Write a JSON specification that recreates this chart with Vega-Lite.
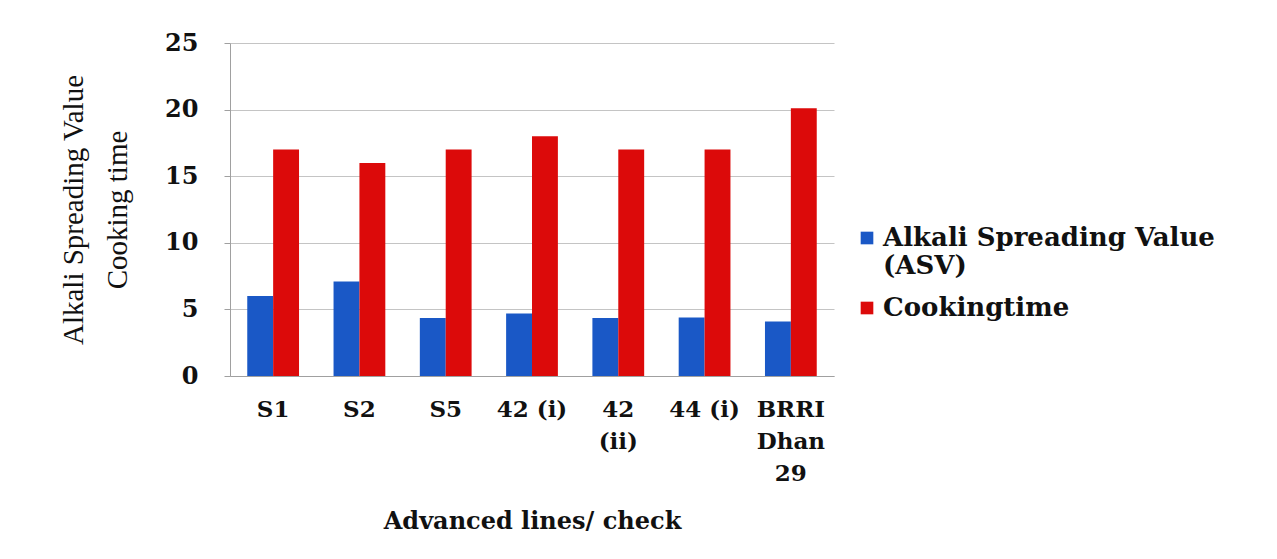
{
  "$schema": "https://vega.github.io/schema/vega-lite/v6.json",
  "autosize": {"type": "none"},
  "width": 604,
  "height": 333,
  "padding": {"left": 230, "top": 43, "right": 443, "bottom": 183},
  "background": "white",
  "data": {
    "values": [
      {"line": "S1", "series": "Alkali Spreading Value (ASV)", "value": 6.0},
      {"line": "S1", "series": "Cookingtime", "value": 17},
      {"line": "S2", "series": "Alkali Spreading Value (ASV)", "value": 7.1},
      {"line": "S2", "series": "Cookingtime", "value": 16},
      {"line": "S5", "series": "Alkali Spreading Value (ASV)", "value": 4.35},
      {"line": "S5", "series": "Cookingtime", "value": 17},
      {"line": "42 (i)", "series": "Alkali Spreading Value (ASV)", "value": 4.7},
      {"line": "42 (i)", "series": "Cookingtime", "value": 18},
      {"line": "42 (ii)", "series": "Alkali Spreading Value (ASV)", "value": 4.35},
      {"line": "42 (ii)", "series": "Cookingtime", "value": 17},
      {"line": "44 (i)", "series": "Alkali Spreading Value (ASV)", "value": 4.4},
      {"line": "44 (i)", "series": "Cookingtime", "value": 17},
      {"line": "BRRI Dhan 29", "series": "Alkali Spreading Value (ASV)", "value": 4.1},
      {"line": "BRRI Dhan 29", "series": "Cookingtime", "value": 20.1}
    ]
  },
  "mark": {"type": "bar"},
  "encoding": {
    "x": {
      "field": "line",
      "type": "nominal",
      "sort": null,
      "scale": {"paddingInner": 0.4, "paddingOuter": 0.2},
      "axis": {
        "title": "Advanced lines/ check",
        "labelAngle": 0,
        "labelExpr": "datum.value == '42 (ii)' ? ['42', '(ii)'] : datum.value == 'BRRI Dhan 29' ? ['BRRI', 'Dhan', '29'] : datum.value",
        "labelFont": "DejaVu Serif",
        "labelFontWeight": "bold",
        "labelFontSize": 23,
        "labelLineHeight": 32,
        "labelColor": "#111111",
        "labelPadding": 22,
        "ticks": false,
        "domainColor": "#a0a0a0",
        "titleFont": "DejaVu Serif",
        "titleFontWeight": "bold",
        "titleFontSize": 24,
        "titleColor": "#111111",
        "titlePadding": 24
      }
    },
    "y": {
      "field": "value",
      "type": "quantitative",
      "scale": {"domain": [0, 25]},
      "axis": {
        "title": ["Alkali Spreading Value", "Cooking time"],
        "values": [0, 5, 10, 15, 20, 25],
        "labelFont": "DejaVu Serif",
        "labelFontWeight": "bold",
        "labelFontSize": 24,
        "labelColor": "#111111",
        "labelPadding": 26,
        "tickSize": 6,
        "tickColor": "#a0a0a0",
        "domainColor": "#a0a0a0",
        "gridColor": "#c4c4c4",
        "titleFont": "Liberation Serif",
        "titleFontSize": 29,
        "titleFontWeight": "normal",
        "titleColor": "#111111",
        "titleLineHeight": 44,
        "titlePadding": 32
      }
    },
    "xOffset": {"field": "series", "sort": ["Alkali Spreading Value (ASV)", "Cookingtime"]},
    "color": {
      "field": "series",
      "type": "nominal",
      "sort": ["Alkali Spreading Value (ASV)", "Cookingtime"],
      "scale": {"range": ["#1a58c6", "#dc0a0a"]},
      "legend": {
        "title": null,
        "orient": "none",
        "legendX": 624,
        "legendY": 182,
        "symbolType": "square",
        "symbolSize": 160,
        "symbolStrokeWidth": 0,
        "labelFont": "DejaVu Serif",
        "labelFontWeight": "bold",
        "labelFontSize": 26,
        "labelColor": "#111111",
        "labelLimit": 600,
        "labelLineHeight": 29,
        "labelExpr": "datum.value == 'Alkali Spreading Value (ASV)' ? ['Alkali Spreading Value', '(ASV)'] : datum.value",
        "rowPadding": 16,
        "labelOffset": 3
      }
    }
  },
  "config": {
    "view": {"stroke": null}
  }
}
